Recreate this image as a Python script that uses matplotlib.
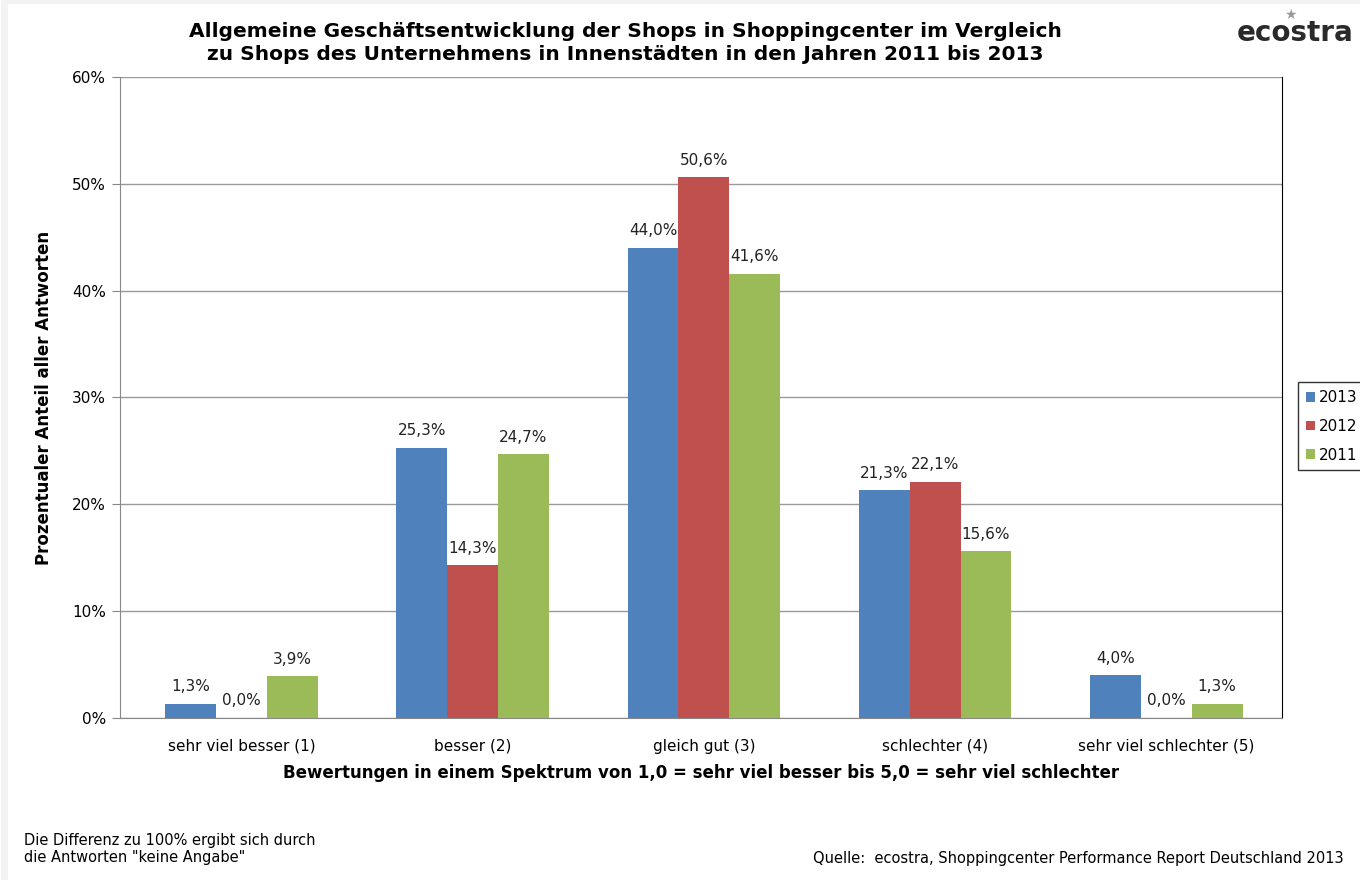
import matplotlib
matplotlib.use('Agg')
import matplotlib.pyplot as plt
import numpy as np

# Antwortkategorien und Anteile je Jahr (in %)
kategorien = ['sehr viel besser (1)', 'besser (2)', 'gleich gut (3)',
              'schlechter (4)', 'sehr viel schlechter (5)']
jahre = ['2013', '2012', '2011']
werte_2013 = [1.3, 25.3, 44.0, 21.3, 4.0]
werte_2012 = [0.0, 14.3, 50.6, 22.1, 0.0]
werte_2011 = [3.9, 24.7, 41.6, 15.6, 1.3]
farben = ['#4F81BD', '#C0504D', '#9BBB59']

plt.rcParams['font.family'] = ['DejaVu Sans']

fig = plt.figure(figsize=(13.6, 8.8), dpi=100)
ax = fig.add_axes([0.0882, 0.1841, 0.8544, 0.7284])

x = np.arange(len(kategorien))
breite = 0.22
for i, (serie, jahr) in enumerate(zip([werte_2013, werte_2012, werte_2011], jahre)):
    pos = x + (i - 1) * breite
    ax.bar(pos, serie, breite, color=farben[i], label=jahr, zorder=3)
    for px, v in zip(pos, serie):
        ax.text(px, v + 0.9, ('%.1f%%' % v).replace('.', ','), ha='center',
                va='bottom', fontsize=11, color='#222222')

ax.set_xlim(-0.525, 4.5)
ax.set_ylim(0, 60)
ax.set_yticks(np.arange(0, 61, 10))
ax.set_yticklabels(['%d%%' % t for t in range(0, 61, 10)], fontsize=11)
ax.set_xticks(x)
ax.set_xticklabels(kategorien, fontsize=11)
ax.tick_params(axis='x', length=0, pad=15)
ax.tick_params(axis='y', length=6, color='#888888', pad=4)
ax.grid(axis='y', color='#999999', linewidth=1, zorder=0)
ax.spines['top'].set_visible(False)
ax.spines['left'].set_color('#888888')
ax.spines['bottom'].set_color('#888888')
ax.spines['right'].set_color('#000000')

ax.set_xlabel('Bewertungen in einem Spektrum von 1,0 = sehr viel besser bis 5,0 = sehr viel schlechter',
              fontsize=12, fontweight='bold', labelpad=7)
ax.set_ylabel('Prozentualer Anteil aller Antworten', fontsize=12,
              fontweight='bold', labelpad=14)

fig.text(0.46, 0.975, 'Allgemeine Geschäftsentwicklung der Shops in Shoppingcenter im Vergleich\n'
         'zu Shops des Unternehmens in Innenstädten in den Jahren 2011 bis 2013',
         ha='center', va='top', fontsize=14.5, fontweight='bold', linespacing=1.25)

# Logo-Schriftzug mit Stern über dem "o"
fig.text(0.995, 0.962, 'ecostra', ha='right', va='center', fontsize=20,
         fontweight='semibold', color='#2a2a2a')
fig.text(0.9485, 0.983, '★', ha='center', va='center', fontsize=10, color='#999999')

leg = ax.legend(loc='center left', bbox_to_anchor=(1.0138, 0.455), fontsize=11,
                frameon=True, fancybox=False, handlelength=0.6, handleheight=0.6,
                handletextpad=0.3, labelspacing=0.9, borderpad=0.5, borderaxespad=0)
leg.get_frame().set_edgecolor('#000000')
leg.get_frame().set_linewidth(1)

fig.text(0.018, 0.035, 'Die Differenz zu 100% ergibt sich durch\ndie Antworten "keine Angabe"',
         ha='left', va='center', fontsize=10.5)
fig.text(0.988, 0.025, 'Quelle:  ecostra, Shoppingcenter Performance Report Deutschland 2013',
         ha='right', va='center', fontsize=10.5)

# schwacher grauer Rand links und oben
fig.add_artist(plt.Line2D([0.003, 0.003], [0, 0.996], color='#f3f3f3', lw=5,
                          transform=fig.transFigure))
fig.add_artist(plt.Line2D([0.003, 1], [0.998, 0.998], color='#f3f3f3', lw=3,
                          transform=fig.transFigure))

plt.savefig('out.png', dpi=100)
